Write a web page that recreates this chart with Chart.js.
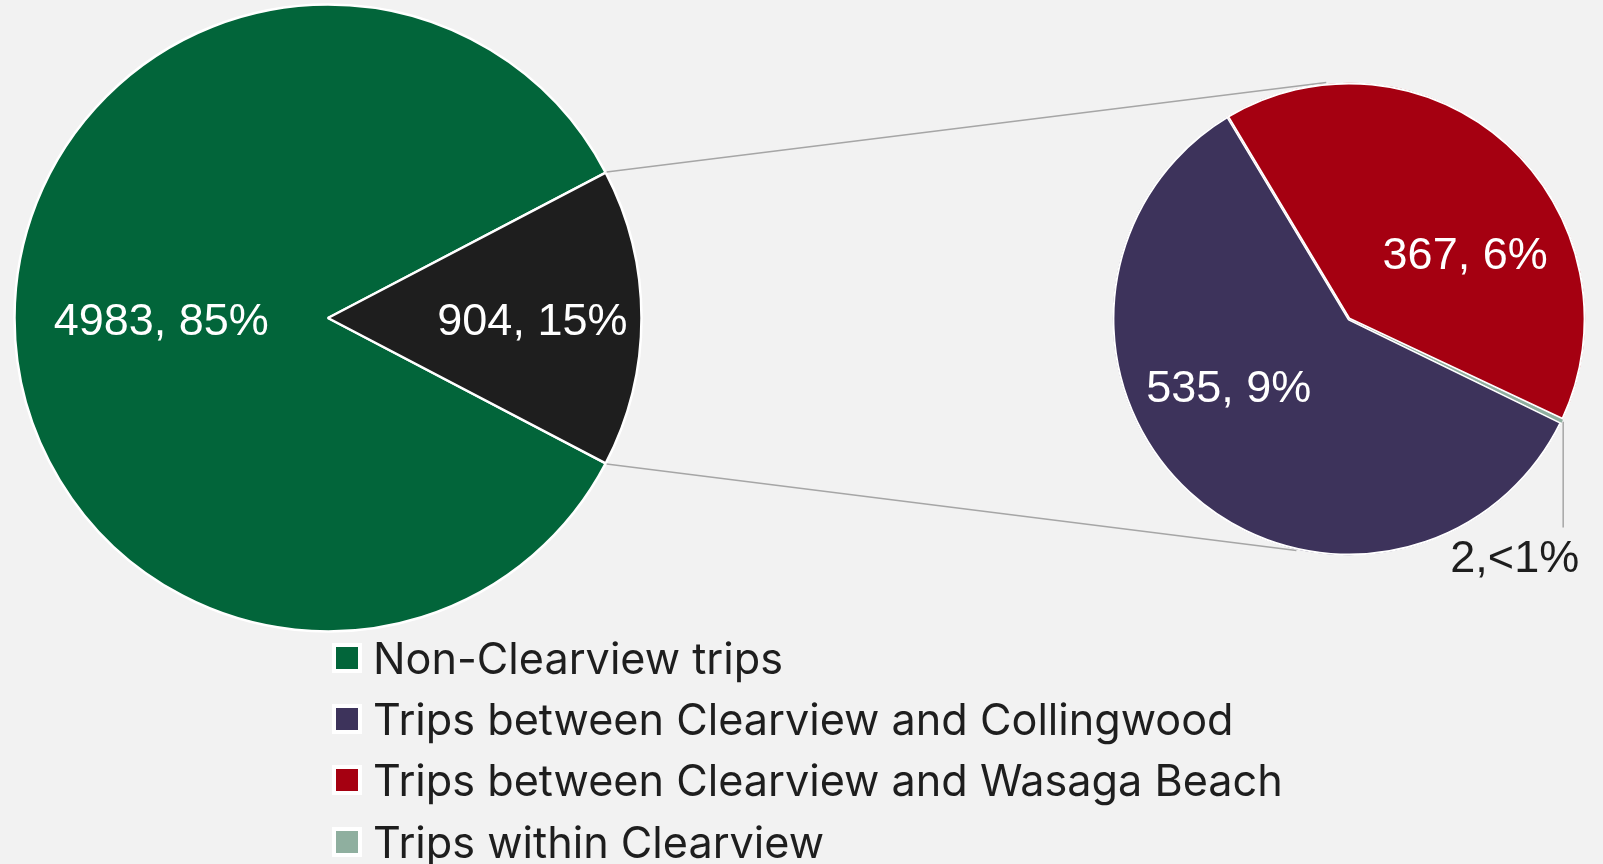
<!DOCTYPE html>
<html>
<head>
<meta charset="utf-8">
<script src="https://cdn.jsdelivr.net/npm/chart.js@4.4.1/dist/chart.umd.min.js"></script>
<style>
  html, body { margin: 0; padding: 0; background: #f2f2f2; }
  #wrap { position: relative; width: 1603px; height: 864px; overflow: hidden; }
  #wrap canvas { position: absolute; left: 0; top: 0; }
  #legend { position: absolute; left: 332px; top: 627px; font-family: Inter, "Open Sans", sans-serif; font-size: 43.2px; color: #1e1e1e; }
  .item { display: flex; align-items: center; height: 61.3px; white-space: nowrap; }
  .box { width: 22px; height: 22px; border: 4px solid #fff; margin-right: 11px; flex: none; }
</style>
</head>
<body>
<div id="wrap">
  <canvas id="mainPie" width="1603" height="864"></canvas>
  <canvas id="subPie" width="1603" height="864"></canvas>
  <div id="legend"></div>
</div>
<script>
// main pie: everything vs trips touching Clearview
const mainLabels = ['Non-Clearview trips', 'Clearview trips'];
const mainValues = [4983, 904];
const mainColors = ['#02653a', '#1e1e1e'];

// split of the 904 Clearview trips
const subLabels = ['Trips between Clearview and Collingwood', 'Trips between Clearview and Wasaga Beach', 'Trips within Clearview'];
const subValues = [535, 367, 2];
const subColors = ['#3d335b', '#a50011', '#8faf9f'];

const legendLabels = [mainLabels[0], ...subLabels];
const legendColors = [mainColors[0], ...subColors];

const grandTotal = mainValues.reduce((a, b) => a + b, 0);

function fmt(v) {
    const pct = v / grandTotal * 100;
    if (pct < 1) return v + ',<1%';
    return v + ', ' + Math.round(pct) + '%';
}

// where each value label sits: direction (deg) and distance (fraction of radius)
const mainLabelPlace = [
    {angle: 179.3, dist: 0.532, color: '#ffffff'},
    {angle: 0.6, dist: 0.652, color: '#ffffff'}
];
const subLabelPlace = [
    {angle: 150.4, dist: 0.585, color: '#ffffff'},
    {angle: -29.1, dist: 0.562, color: '#ffffff'},
    {angle: 55.2, dist: 1.228, color: '#1e1e1e', leader: true}
];

const labelFont = 45;

const sliceLabels = {
    id: 'sliceLabels',
    afterDatasetsDraw(chart, args, opts) {
        const ctx = chart.ctx;
        const meta = chart.getDatasetMeta(0);
        const values = chart.data.datasets[0].data;
        ctx.save();
        ctx.font = labelFont + 'px "Liberation Sans", Arial, sans-serif';
        ctx.textAlign = 'center';
        ctx.textBaseline = 'alphabetic';
        meta.data.forEach((arc, i) => {
            const p = opts.place[i];
            const a = p.angle * Math.PI / 180;
            const x = arc.x + Math.cos(a) * arc.outerRadius * p.dist;
            const y = arc.y + Math.sin(a) * arc.outerRadius * p.dist;
            if (p.leader) {
                const mid = (arc.startAngle + arc.endAngle) / 2;
                const lx = arc.x + Math.cos(mid) * (arc.outerRadius + 1);
                const ly = arc.y + Math.sin(mid) * (arc.outerRadius + 1);
                ctx.strokeStyle = '#a6a6a6';
                ctx.lineWidth = 1.5;
                ctx.beginPath();
                ctx.moveTo(lx, ly);
                ctx.lineTo(lx, y - 30);
                ctx.stroke();
            }
            ctx.fillStyle = p.color;
            ctx.fillText(fmt(values[i]), x, y + labelFont * 0.33);
        });
        ctx.restore();
    }
};

let mainChart = null;

// grey lines from the split slice over to the second pie
const connectors = {
    id: 'connectors',
    beforeDatasetsDraw(chart, args, opts) {
        if (!mainChart) return;
        const src = mainChart.getDatasetMeta(0).data[1];
        const dst = chart.getDatasetMeta(0).data[0];
        const r2 = dst.outerRadius + 1;
        const pairs = [[src.startAngle, opts.topAngle], [src.endAngle, opts.bottomAngle]];
        const ctx = chart.ctx;
        ctx.save();
        ctx.strokeStyle = '#a6a6a6';
        ctx.lineWidth = 1.5;
        pairs.forEach(([a1, a2]) => {
            const b = a2 * Math.PI / 180;
            ctx.beginPath();
            ctx.moveTo(src.x + Math.cos(a1) * (src.outerRadius + 1), src.y + Math.sin(a1) * (src.outerRadius + 1));
            ctx.lineTo(dst.x + Math.cos(b) * r2, dst.y + Math.sin(b) * r2);
            ctx.stroke();
        });
        ctx.restore();
    }
};

// turn the main pie so the Clearview slice faces the second pie
const mainRotation = 90 - 360 * mainValues[0] / grandTotal - 180 * mainValues[1] / grandTotal + 360;

mainChart = new Chart(document.getElementById('mainPie').getContext('2d'), {
    type: 'pie',
    data: {
        labels: mainLabels,
        datasets: [{
            data: mainValues,
            backgroundColor: mainColors,
            borderColor: '#ffffff',
            borderWidth: 2.5
        }]
    },
    options: {
        responsive: false,
        animation: false,
        events: [],
        rotation: mainRotation,
        radius: 313.5,
        layout: {padding: {left: 0, top: 0, right: 947, bottom: 228}},
        plugins: {
            legend: {display: false},
            tooltip: {enabled: false},
            sliceLabels: {place: mainLabelPlace}
        }
    },
    plugins: [sliceLabels]
});

const subChart = new Chart(document.getElementById('subPie').getContext('2d'), {
    type: 'pie',
    data: {
        labels: subLabels,
        datasets: [{
            data: subValues,
            backgroundColor: subColors,
            borderColor: '#ffffff',
            // inner borders on the big slices so the tiny one is not painted over
            borderAlign: ['inner', 'inner', 'center'],
            borderWidth: [1.6, 1.6, 0]
        }]
    },
    options: {
        responsive: false,
        animation: false,
        events: [],
        rotation: 116,
        radius: 236.5,
        layout: {padding: {left: 1099, top: 69, right: 4, bottom: 295}},
        plugins: {
            legend: {display: false},
            tooltip: {enabled: false},
            sliceLabels: {place: subLabelPlace},
            connectors: {topAngle: -95.5, bottomAngle: 102.8}
        }
    },
    plugins: [connectors, sliceLabels]
});

const legendEl = document.getElementById('legend');
legendLabels.forEach((txt, i) => {
    const row = document.createElement('div');
    row.className = 'item';
    const box = document.createElement('span');
    box.className = 'box';
    box.style.background = legendColors[i];
    const label = document.createElement('span');
    label.textContent = txt;
    row.appendChild(box);
    row.appendChild(label);
    legendEl.appendChild(row);
});
</script>
</body>
</html>
